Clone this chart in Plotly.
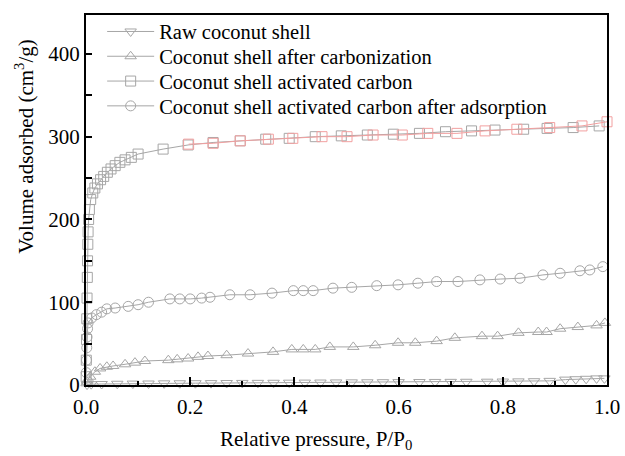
import plotly.graph_objects as go

# N2 adsorption isotherms (relative pressure vs volume adsorbed, cm3/g)
raw_p = [0.002, 0.01, 0.03, 0.06, 0.09, 0.12, 0.15, 0.18, 0.21, 0.24, 0.27, 0.30, 0.33,
         0.36, 0.39, 0.42, 0.45, 0.48, 0.51, 0.54, 0.57, 0.60, 0.64, 0.67, 0.70, 0.73,
         0.77, 0.80, 0.83, 0.86, 0.89, 0.92, 0.94, 0.96, 0.98, 0.995]
raw_v = [0.5, 1, 1.2, 1.5, 1.7, 1.8, 2.0, 2.1, 2.2, 2.3, 2.4, 2.5, 2.6,
         2.7, 2.8, 2.9, 3.0, 3.1, 3.2, 3.3, 3.4, 3.5, 3.6, 3.7, 3.8, 3.9,
         4.0, 4.2, 4.4, 4.6, 5.0, 6.5, 7.0, 7.5, 8.0, 8.0]

carb_p = [0.001, 0.002, 0.004, 0.008, 0.017, 0.027, 0.04, 0.052, 0.075, 0.094, 0.113,
          0.158, 0.175, 0.196, 0.215, 0.234, 0.27, 0.311, 0.359, 0.395, 0.417, 0.44,
          0.468, 0.513, 0.555, 0.599, 0.632, 0.673, 0.708, 0.76, 0.79, 0.83, 0.868,
          0.884, 0.91, 0.944, 0.98, 0.996]
carb_v = [2, 4, 7, 10, 16, 20, 22, 23, 25, 27, 29,
          30, 31, 32, 34, 35, 36, 38, 40, 43, 43, 43,
          46, 46, 48, 51, 51, 53, 57, 59, 59, 63, 64,
          64, 68, 70, 72, 75]

ac_p = [0.0003, 0.0006, 0.001, 0.0015, 0.002, 0.0025, 0.003, 0.0035, 0.004, 0.005,
        0.0065, 0.009, 0.013, 0.017, 0.022, 0.028, 0.034, 0.041, 0.048, 0.056, 0.065,
        0.075, 0.087, 0.10, 0.148, 0.196, 0.244, 0.296, 0.345, 0.39, 0.44, 0.49, 0.54,
        0.59, 0.64, 0.69, 0.74, 0.785, 0.84, 0.885, 0.935, 0.985]
ac_v = [10, 30, 55, 80, 105, 130, 150, 170, 185, 200,
        212, 224, 232, 238, 243, 248, 252, 257, 261, 265, 269,
        272, 275, 279, 285, 290, 293, 295, 297, 298, 300, 301, 302,
        303, 304, 306, 307, 308, 309, 310, 311, 313]

# desorption branch of the activated carbon
ac_des_p = [0.197, 0.244, 0.296, 0.35, 0.397, 0.453, 0.501, 0.551, 0.607, 0.656,
            0.712, 0.766, 0.827, 0.89, 0.952, 1.0]
ac_des_v = [291, 292, 295, 297, 298, 300, 300, 302, 302, 304,
            304, 307, 309, 311, 313, 318]

ads_p = [0.0005, 0.001, 0.0015, 0.002, 0.003, 0.004, 0.011, 0.02, 0.03, 0.04, 0.056,
         0.081, 0.1, 0.12, 0.161, 0.18, 0.2, 0.222, 0.238, 0.276, 0.315, 0.357, 0.398,
         0.417, 0.436, 0.474, 0.51, 0.558, 0.599, 0.637, 0.673, 0.714, 0.756, 0.795,
         0.833, 0.877, 0.91, 0.948, 0.967, 0.992]
ads_v = [15, 30, 45, 58, 68, 75, 81, 85, 88, 92, 93,
         95, 97, 100, 104, 104, 104, 105, 106, 109, 109, 111, 114,
         114, 114, 117, 118, 120, 121, 123, 125, 125, 127, 128,
         129, 133, 135, 138, 139, 143]

series = [
    ("Raw coconut shell", raw_p, raw_v, "triangle-down-open"),
    ("Coconut shell after carbonization", carb_p, carb_v, "triangle-up-open"),
    ("Coconut shell activated carbon", ac_p, ac_v, "square-open"),
    ("Coconut shell activated carbon after adsorption", ads_p, ads_v, "circle-open"),
]

x_ticks = [0, 0.2, 0.4, 0.6, 0.8, 1.0]
x_tick_text = ["0.0", "0.2", "0.4", "0.6", "0.8", "1.0"]
y_ticks = [0, 100, 200, 300, 400]

GRAY = "#a6a6a6"
PINK = "#f2a0a0"
FONT = "Liberation Serif"

# one single-entry legend per series so the rows sit tightly stacked
legend_names = ["legend", "legend2", "legend3", "legend4"]
legend_rows = [0.955, 0.888, 0.821, 0.754]

fig = go.Figure()
for (name, p, v, sym), lg in zip(series, legend_names):
    fig.add_trace(go.Scatter(
        x=p, y=v, name=name, mode="lines+markers", legend=lg,
        line=dict(color=GRAY, width=1),
        marker=dict(symbol=sym, size=10, color=GRAY, line=dict(width=1, color=GRAY)),
        cliponaxis=False,
    ))

fig.add_trace(go.Scatter(
    x=ac_des_p, y=ac_des_v, mode="lines+markers", showlegend=False,
    line=dict(color=PINK, width=1),
    marker=dict(symbol="square-open", size=10, color=PINK, line=dict(width=1, color=PINK)),
    cliponaxis=False,
))

axis_common = dict(
    showline=True, linecolor="black", linewidth=2, mirror=True,
    ticks="inside", tickwidth=1.5, tickcolor="black",
    showgrid=False, zeroline=False, automargin=False,
    tickfont=dict(family=FONT, size=21, color="black"),
)

fig.update_xaxes(
    range=[0, 1], tickvals=x_ticks, ticktext=x_tick_text, ticklen=8,
    ticklabelstandoff=2,
    minor=dict(ticks="inside", ticklen=4, tickcolor="black", dtick=0.1),
    **axis_common,
)
fig.update_yaxes(
    range=[0, 447], tickvals=y_ticks, ticklen=6,
    minor=dict(ticks="inside", ticklen=6, tickcolor="black", tickwidth=1.5, dtick=50),
    **axis_common,
)

# axis titles
fig.add_annotation(
    text="Relative pressure, P/P<sub>0</sub>", xref="paper", yref="paper",
    x=0.441, y=-0.15, xanchor="center", yanchor="middle", showarrow=False,
    font=dict(family=FONT, size=21, color="black"),
)
fig.add_annotation(
    text="Volume adsorbed (cm<sup>3</sup>/g)", xref="paper", yref="paper",
    x=-0.118, y=0.645, xanchor="center", yanchor="middle", showarrow=False,
    textangle=-90, font=dict(family=FONT, size=21, color="black"),
)

legend_style = dict(
    x=0.031, xanchor="left", yanchor="middle",
    bgcolor="rgba(0,0,0,0)", itemwidth=47,
    font=dict(family=FONT, size=20.5, color="black"),
)

fig.update_layout(
    width=625, height=456,
    margin=dict(l=86, r=18, t=15, b=71),
    paper_bgcolor="white", plot_bgcolor="white",
    showlegend=True,
    legend=dict(y=legend_rows[0], **legend_style),
    legend2=dict(y=legend_rows[1], **legend_style),
    legend3=dict(y=legend_rows[2], **legend_style),
    legend4=dict(y=legend_rows[3], **legend_style),
)

fig.write_html("out.html")
